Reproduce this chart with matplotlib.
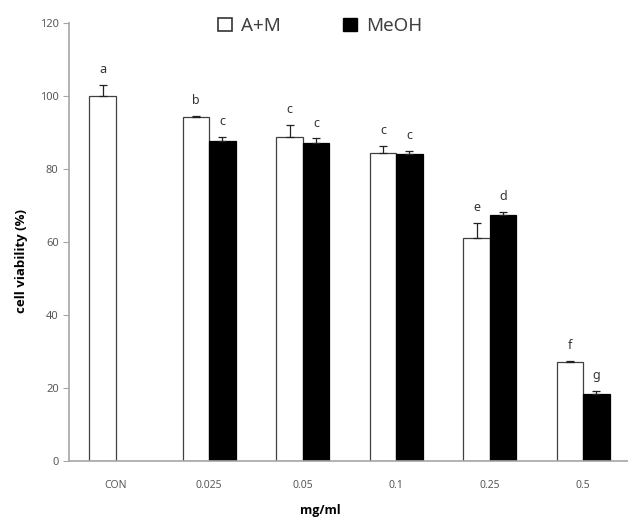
import matplotlib.pyplot as plt
import numpy as np
from matplotlib.patches import Patch

plt.rcParams['font.family'] = ['Noto Sans', 'DejaVu Sans']

# --- data ---
categories = ['CON', '0.025', '0.05', '0.1', '0.25', '0.5']
am_vals = [100.0, 94.3, 88.8, 84.5, 61.0, 27.2]
am_err = [3.0, 0.3, 3.2, 1.9, 4.3, 0.3]
am_letters = ['a', 'b', 'c', 'c', 'e', 'f']
meoh_vals = [np.nan, 87.6, 87.2, 84.2, 67.4, 18.3]
meoh_err = [np.nan, 1.1, 1.2, 0.8, 0.9, 0.9]
meoh_letters = ['', 'c', 'c', 'c', 'd', 'g']

grey = '#a6a6a6'
tick_col = '#595959'
bold_font = ['Open Sans', 'Liberation Sans', 'DejaVu Sans']

fig = plt.figure(figsize=(6.28, 5.22), dpi=100)
ax = fig.add_axes([69 / 628, 61 / 522, 561 / 628, 438 / 522])

x = np.arange(len(categories))
w = 0.283

ax.bar(x - w / 2, am_vals, w, color='white', edgecolor='#404040', linewidth=0.9, zorder=2)
ax.bar(x + w / 2, meoh_vals, w, color='black', edgecolor='black', linewidth=0.9, zorder=2)

zeros = np.zeros(len(x))
ax.errorbar(x - w / 2, am_vals, yerr=[zeros, am_err], fmt='none', ecolor='#222222',
            elinewidth=0.9, capsize=3, capthick=0.9, zorder=3)
ax.errorbar(x + w / 2, meoh_vals, yerr=[zeros, meoh_err], fmt='none', ecolor='#222222',
            elinewidth=0.9, capsize=3, capthick=0.9, zorder=3)

for i in range(len(x)):
    ax.annotate(am_letters[i], (x[i] - w / 2, am_vals[i] + am_err[i]), xytext=(0, 11),
                textcoords='offset points', ha='center', va='center', fontsize=9, color='#333333')
    if meoh_letters[i]:
        ax.annotate(meoh_letters[i], (x[i] + w / 2, meoh_vals[i] + meoh_err[i]), xytext=(0, 11),
                    textcoords='offset points', ha='center', va='center', fontsize=9, color='#333333')

ax.set_xlim(-0.5, len(categories) - 0.5)
ax.set_ylim(0, 120)
ax.set_yticks(range(0, 121, 20))
ax.set_xticks(x)
ax.set_xticklabels(categories)
ax.tick_params(axis='y', colors=grey, labelcolor=tick_col, labelsize=8, length=4, direction='out')
ax.tick_params(axis='x', length=0, labelcolor=tick_col, labelsize=7.5, pad=14)

for s in ['top', 'right']:
    ax.spines[s].set_visible(False)
for s in ['left', 'bottom']:
    ax.spines[s].set_color(grey)
    ax.spines[s].set_linewidth(1.2)

fig.text(0.035, 0.5, 'cell viability (%)', rotation=90, ha='center', va='center',
         fontsize=9.5, fontweight='bold', color='black', family=bold_font)
fig.text(0.51, 0.01, 'mg/ml', ha='center', va='bottom', fontsize=9, fontweight='bold',
         color='black', family=bold_font)

handles = [Patch(facecolor='white', edgecolor='#333333', linewidth=1.2),
           Patch(facecolor='black', edgecolor='black')]
fig.legend(handles, ['A+M', 'MeOH'], loc='center', bbox_to_anchor=(0.51, 0.95), ncol=2,
           frameon=False, fontsize=13.5, handlelength=0.75, handleheight=0.75,
           handletextpad=0.5, columnspacing=3.3, labelcolor='#404040')

plt.savefig('out.png', dpi=100)
